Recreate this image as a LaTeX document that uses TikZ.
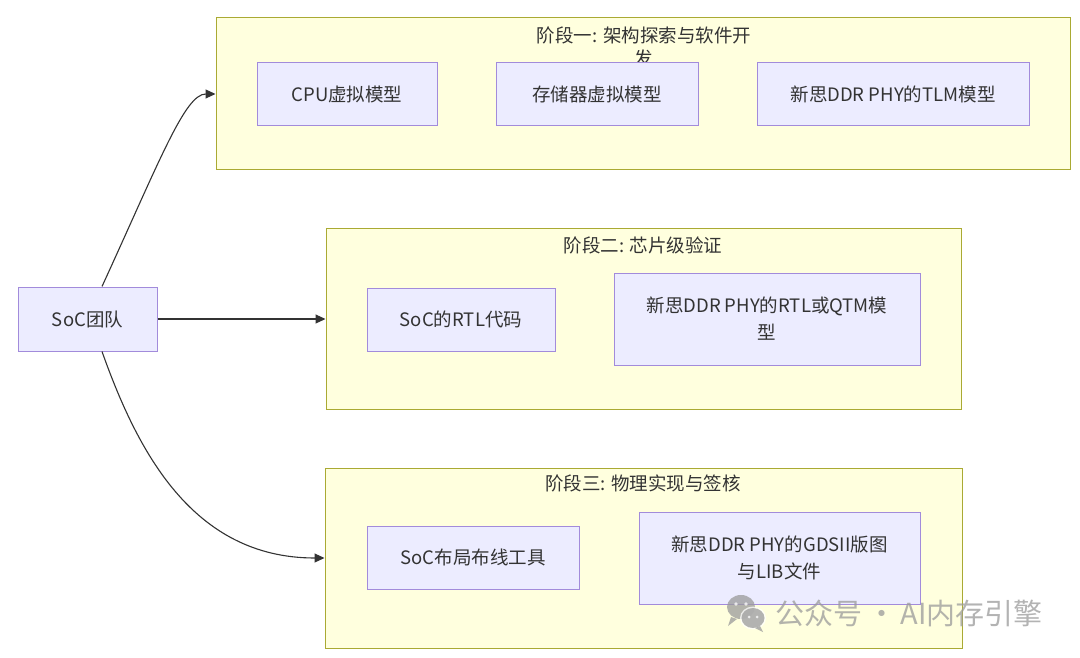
\documentclass[tikz,border=0pt]{standalone}
\usepackage{fontspec}
\setmainfont{Noto Sans CJK SC}
\usetikzlibrary{arrows.meta,calc}
\definecolor{clfill}{HTML}{FFFFDE}
\definecolor{cldraw}{HTML}{AAAA33}
\definecolor{ndfill}{HTML}{ECECFF}
\definecolor{nddraw}{HTML}{A28BDB}
\definecolor{txt}{HTML}{333333}
\definecolor{wm}{HTML}{9A9A9A}
\tikzset{
  cluster/.style={draw=cldraw, fill=clfill, line width=1pt, inner sep=0pt},
  proc/.style={draw=nddraw, fill=ndfill, line width=1pt, inner sep=0pt, text=txt,
    font=\fontsize{18.5}{27}\selectfont, align=center},
  ctitle/.style={text=txt, font=\fontsize{18.5}{23}\selectfont, align=center, inner sep=0pt},
  link/.style={draw=txt, line width=1.1pt, -{Triangle[length=10pt,width=9pt]}},
}
\begin{document}
\begin{tikzpicture}[x=1pt,y=-1pt]
\useasboundingbox[fill=white] (0,0) rectangle (1080,658);
% clusters
\node[cluster, minimum width=854pt, minimum height=152pt] (c1) at (643,94) {};
\node[cluster, minimum width=635pt, minimum height=180pt] (c2) at (643.5,319) {};
\node[cluster, minimum width=637pt, minimum height=180pt] (c3) at (643.5,558) {};
% cluster titles
\node[ctitle] (t1) at (644,47) {阶段一: 架构探索与软件开\\发};
\node[ctitle] (t2) at (643,245) {阶段二: 芯片级验证};
\node[ctitle] (t3) at (643,483) {阶段三: 物理实现与签核};
% nodes
\node[proc, minimum width=180pt, minimum height=63pt] (n11) at (347,94.5) {CPU虚拟模型};
\node[proc, minimum width=202pt, minimum height=63pt] (n12) at (597,94.5) {存储器虚拟模型};
\node[proc, minimum width=272pt, minimum height=63pt] (n13) at (893,94.5) {新思DDR PHY的TLM模型};
\node[proc, minimum width=188pt, minimum height=63pt] (n21) at (461,319.5) {SoC的RTL代码};
\node[proc, minimum width=306pt, minimum height=92pt] (n22) at (767,319) {新思DDR PHY的RTL或QTM模\\型};
\node[proc, minimum width=212pt, minimum height=63pt] (n31) at (473,557.5) {SoC布局布线工具};
\node[proc, minimum width=281pt, minimum height=92pt] (n32) at (779.5,558) {新思DDR PHY的GDSII版图\\与LIB文件};
\node[proc, minimum width=139pt, minimum height=64pt] (soc) at (87.5,319) {SoC团队};
% connectors
\draw[link] ([xshift=14.5pt]soc.north) .. controls (160,160) and (185,94) .. (c1.west);
\draw[link] (soc.east) -- (c2.west);
\draw[link] ([xshift=14.5pt]soc.south) .. controls (137,450) and (192,558) .. (c3.west);
% watermark
\begin{scope}[opacity=0.75]
\fill[wm] (741,607) ellipse (14pt and 12pt);
\fill[wm] (731,617) -- (728,626) -- (737,619) -- cycle;
\fill[white] (753,618) ellipse (13pt and 11.5pt);
\fill[wm] (753,618) ellipse (11.5pt and 10pt);
\fill[wm] (760,626) -- (763,632) -- (755,628) -- cycle;
\fill[white] (736,604) circle (1.8pt);
\fill[white] (746,604) circle (1.8pt);
\fill[white] (749,617) circle (1.5pt);
\fill[white] (757,617) circle (1.5pt);
\node[text=wm, font=\fontsize{29}{32}\selectfont, anchor=west, inner sep=0pt] (wmt) at (775,613) {公众号\,·\,AI内存引擎};
\end{scope}
\end{tikzpicture}
\end{document}
